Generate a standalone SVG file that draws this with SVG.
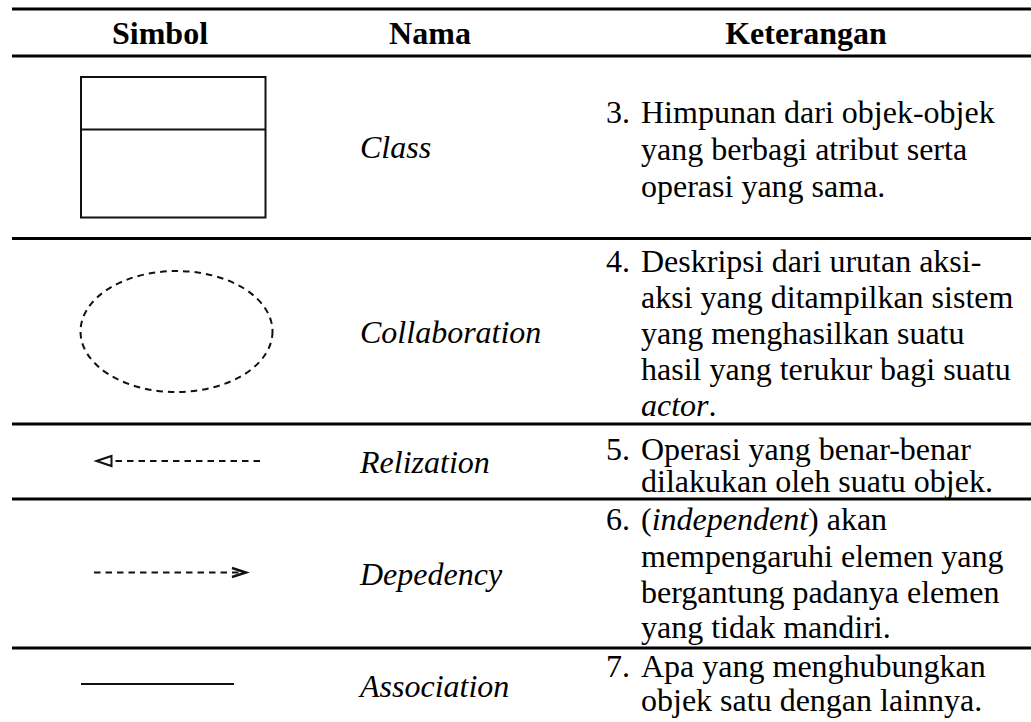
<svg xmlns="http://www.w3.org/2000/svg" width="1031" height="722" viewBox="0 0 1031 722">
  <style>
    text { font-family: "Liberation Serif", serif; font-size: 32px; fill: #000; }
    .hd { font-weight: bold; text-anchor: middle; }
    .nm { font-style: italic; }
    .rule { stroke: #000; stroke-width: 3; }
    .sym { fill: none; stroke: #111; stroke-width: 2; }
    .dash { fill: none; stroke: #111; stroke-width: 2; stroke-dasharray: 6.5 5; }
    .head { fill: #fff; stroke: #111; stroke-width: 2; stroke-linejoin: miter; }
    .vhead { fill: none; stroke: #111; stroke-width: 2.4; }
  </style>

  <rect width="1031" height="722" fill="#fff"/>

  <!-- table rules -->
  <g id="rules">
    <line class="rule" x1="12" y1="9" x2="1031" y2="9"/>
    <line class="rule" x1="12" y1="56" x2="1031" y2="56"/>
    <line class="rule" x1="12" y1="238.5" x2="1031" y2="238.5"/>
    <line class="rule" x1="12" y1="424" x2="1031" y2="424"/>
    <line class="rule" x1="12" y1="499" x2="1031" y2="499"/>
    <line class="rule" x1="12" y1="648" x2="1031" y2="648"/>
  </g>

  <!-- header -->
  <g id="header" font-family="Liberation Serif">
    <text class="hd" x="160" y="44">Simbol</text>
    <text class="hd" x="430" y="44">Nama</text>
    <text class="hd" x="806" y="44">Keterangan</text>
  </g>

  <!-- row: class -->
  <g id="row-class" font-family="Liberation Serif">
    <rect class="sym" x="81" y="77" width="184.5" height="140.5"/>
    <line class="sym" x1="81" y1="129.5" x2="265.5" y2="129.5"/>
    <text class="nm" x="360" y="158">Class</text>
    <text x="606" y="123">3.</text>
    <text x="641" y="123">Himpunan dari objek-objek</text>
    <text x="641" y="160">yang berbagi atribut serta</text>
    <text x="641" y="196.5">operasi yang sama.</text>
  </g>

  <!-- row: collaboration -->
  <g id="row-collaboration" font-family="Liberation Serif">
    <ellipse class="dash" cx="176.5" cy="331.5" rx="96" ry="60.5"/>
    <text class="nm" x="360" y="343">Collaboration</text>
    <text x="606" y="272">4.</text>
    <text x="641" y="272">Deskripsi dari urutan aksi-</text>
    <text x="641" y="308">aksi yang ditampilkan sistem</text>
    <text x="641" y="344">yang menghasilkan suatu</text>
    <text x="641" y="380">hasil yang terukur bagi suatu</text>
    <text x="641" y="416"><tspan font-style="italic">actor</tspan>.</text>
  </g>

  <!-- row: realization -->
  <g id="row-realization" font-family="Liberation Serif">
    <text class="nm" x="360" y="473">Relization</text>
    <text x="606" y="460">5.</text>
    <text x="641" y="460">Operasi yang benar-benar</text>
    <text x="641" y="491.5">dilakukan oleh suatu objek.</text>
  </g>

  <!-- row: dependency -->
  <g id="row-dependency" font-family="Liberation Serif">
    <text class="nm" x="360" y="585">Depedency</text>
    <text x="606" y="530">6.</text>
    <text x="641" y="530">(<tspan font-style="italic">independent</tspan>) akan</text>
    <text x="641" y="567">mempengaruhi elemen yang</text>
    <text x="641" y="603">bergantung padanya elemen</text>
    <text x="641" y="638">yang tidak mandiri.</text>
  </g>

  <!-- row: association -->
  <g id="row-association" font-family="Liberation Serif">
    <text class="nm" x="360" y="697">Association</text>
    <text x="606" y="677">7.</text>
    <text x="641" y="677">Apa yang menghubungkan</text>
    <text x="641" y="711">objek satu dengan lainnya.</text>
  </g>

  <!-- connector symbols -->
  <g id="connectors">
    <line class="dash" x1="260" y1="461" x2="114" y2="461"/>
    <path class="head" d="M96.5,461 L111.5,456 L111.5,466 Z"/>
    <line class="dash" x1="94" y1="572.5" x2="244" y2="572.5"/>
    <path class="vhead" d="M232,568 L246,572.5 L232,577"/>
    <line class="sym" x1="81" y1="684" x2="234" y2="684"/>
  </g>
</svg>
